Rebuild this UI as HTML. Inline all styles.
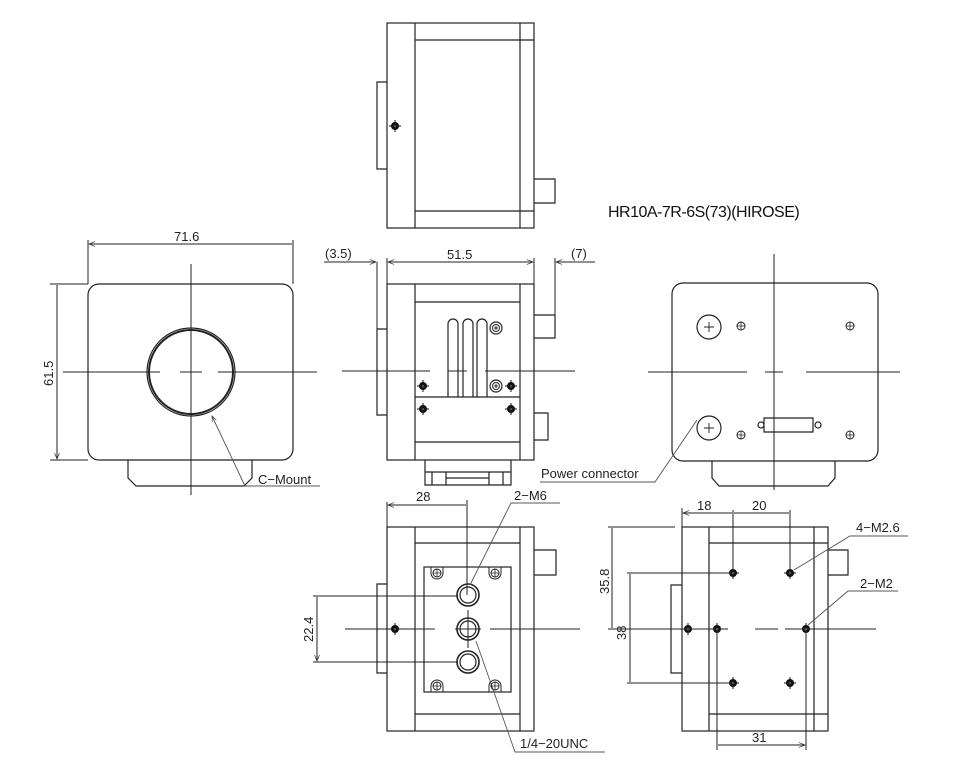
<!DOCTYPE html>
<html><head><meta charset="utf-8"><style>
html,body{margin:0;padding:0;background:#fff;}
svg{display:block}
text{font-family:"Liberation Sans",sans-serif;font-size:13px;fill:#222}
</style></head><body>
<svg width="960" height="784" viewBox="0 0 960 784" xmlns="http://www.w3.org/2000/svg">
<defs>
<marker id="a" viewBox="0 0 10 10" refX="10" refY="5" markerWidth="8" markerHeight="6" orient="auto-start-reverse"><path d="M0,1 L10,5 L0,9" fill="none" stroke="#333" stroke-width="1.2"/></marker>
<g id="sc"><circle r="4" fill="#111"/><circle r="1.3" fill="#fff"/><path d="M-6,0H6M0,-6V6" stroke="#111" stroke-width="1"/></g>
<g id="hl"><circle r="4" fill="none" stroke="#222" stroke-width="1"/><path d="M-4,0H4M0,-4V4" stroke="#222" stroke-width="0.8"/></g>
<g id="dsc"><circle r="6" fill="none" stroke="#222" stroke-width="1.2"/><circle r="3.5" fill="none" stroke="#222"/><path d="M-2,0H2M0,-2V2" stroke="#222"/></g>
</defs>
<g fill="none" stroke="#222" stroke-width="1.2">
<rect x="387" y="23" width="147" height="205"/>
<path d="M415,23V228M520,23V228M415,40H534M415,211H534"/>
<path d="M387,82H377V169H387M534,179H555V203H534"/>
</g>
<use href="#sc" x="395" y="126"/>

<text x="608" y="217" style="font-size:16px;fill:#111;letter-spacing:-0.5px">HR10A-7R-6S(73)(HIROSE)</text>

<!-- FRONT VIEW -->
<g fill="none" stroke="#222" stroke-width="1.2">
<rect x="88" y="284" width="205" height="176" rx="11"/>
<path d="M128,460V478L136,486H244L252,478V460"/>
<circle cx="191" cy="372" r="44"/>
<circle cx="191" cy="372" r="42" stroke-width="2"/>
</g>
<g stroke="#222" stroke-width="1" fill="none">
<path d="M191,264V495M63,372H160M180,372H202M218,372H317"/>
<path d="M88,240V284M293,240V284M50,284H88M50,460H88"/>
<path d="M89,244H292M57,285V459" marker-start="url(#a)" marker-end="url(#a)"/>
<path d="M212,416L245,486H320" stroke="#555" stroke-width="0.9" marker-start="url(#a)"/>
</g>
<text x="174" y="241">71.6</text>
<text x="0" y="0" transform="translate(53,386) rotate(-90)">61.5</text>
<text x="258" y="484">C−Mount</text>

<!-- SIDE VIEW -->
<g fill="none" stroke="#222" stroke-width="1.2">
<rect x="387" y="284" width="147" height="176"/>
<path d="M415,284V460M520,284V460M415,302H520M415,442H520M415,397H520"/>
<path d="M387,329H377V415H387M534,315H555V338H534M534,413H548V440H534"/>
<path d="M448,397V324a5,5 0 0 1 10,0V397M463,397V324a5,5 0 0 1 10,0V397M477,397V324a5,5 0 0 1 10,0V397"/>
<path d="M425,460V485H511V460M425,472H511M432,472V485M446,472V485M489,472V485M503,472V485M446,478H489"/>
</g>
<use href="#dsc" x="496" y="328"/><use href="#dsc" x="496" y="386"/>
<use href="#sc" x="423" y="386"/><use href="#sc" x="423" y="409"/>
<use href="#sc" x="511" y="386"/><use href="#sc" x="511" y="409"/>
<g stroke="#222" stroke-width="1" fill="none">
<path d="M342,371H430M448,371H467M485,371H575"/>
<path d="M377,262V329M387,258V284M534,258V284M555,258V315"/>
<path d="M324,262H376M556,262H595"/>
<path d="M365,262H376" marker-end="url(#a)"/>
<path d="M388,262H533" marker-start="url(#a)" marker-end="url(#a)"/>
<path d="M570,262H556" marker-end="url(#a)"/>
</g>
<text x="325" y="258">(3.5)</text>
<text x="447" y="259">51.5</text>
<text x="571" y="258">(7)</text>

<!-- BACK VIEW -->
<g fill="none" stroke="#222" stroke-width="1.2">
<rect x="672" y="283" width="206" height="178" rx="11"/>
<path d="M712,461V478L719,486H828L835,478V461"/>
<circle cx="709" cy="327" r="12"/><circle cx="709" cy="428" r="12"/>
<path d="M709,322V332M704,327H714M709,423V433M704,428H714" stroke-width="0.9"/>
<path d="M764,418H813V432H764Z"/>
<circle cx="761" cy="425" r="3"/><circle cx="818" cy="425" r="3"/>
</g>
<use href="#hl" x="741" y="326"/><use href="#hl" x="850" y="326"/>
<use href="#hl" x="741" y="435"/><use href="#hl" x="850" y="435"/>
<g stroke="#222" stroke-width="1" fill="none">
<path d="M774,254V490M648,372H747M765,372H783M806,372H900"/>
<path d="M697,420L655,482H540" stroke="#555" stroke-width="0.9"/>
</g>
<text x="541" y="478">Power connector</text>

<!-- BOTTOM VIEW 1 -->
<g fill="none" stroke="#222" stroke-width="1.2">
<rect x="387" y="527" width="147" height="204"/>
<path d="M415,527V731M520,527V731M415,543H520M415,714H520"/>
<path d="M387,584H377V673H387M534,550H556V575H534"/>
<rect x="424" y="567" width="87" height="125"/>
<circle cx="468" cy="595" r="11" stroke-width="1.6"/><circle cx="468" cy="595" r="8"/>
<circle cx="468" cy="629" r="11" stroke-width="1.6"/><circle cx="468" cy="629" r="8"/>
<circle cx="468" cy="662" r="11" stroke-width="1.6"/><circle cx="468" cy="662" r="8"/>
</g>
<g fill="none" stroke="#222" stroke-width="1">
<path d="M431,567V573a6,6 0 1 0 12,0V567M489,567V573a6,6 0 1 0 12,0V567M431,692V686a6,6 0 1 1 12,0V692M489,692V686a6,6 0 1 1 12,0V692"/>
<path d="M345,629H435M455,629H481M490,629H580M468,610V648"/>
<path d="M387,502V527M467,500V595M313,596H458M313,662H458"/>
<path d="M388,505H466M317,597V661" marker-start="url(#a)" marker-end="url(#a)"/>
<path d="M560,503H511L470,585" stroke="#555" stroke-width="0.9"/>
<path d="M476,641L515,752H605" stroke="#555" stroke-width="0.9"/>
</g>
<use href="#hl" x="437" y="573"/><use href="#hl" x="495" y="573"/>
<use href="#hl" x="437" y="686"/><use href="#hl" x="495" y="686"/>
<use href="#sc" x="395" y="629"/>
<text x="416" y="501">28</text>
<text x="514" y="500">2−M6</text>
<text x="0" y="0" transform="translate(313,642) rotate(-90)">22.4</text>
<text x="520" y="748">1/4−20UNC</text>

<!-- BOTTOM VIEW 2 -->
<g fill="none" stroke="#222" stroke-width="1.2">
<rect x="682" y="527" width="146" height="204"/>
<path d="M709,527V731M814,527V731M709,543H828M709,714H828"/>
<path d="M682,585H671V673H682M828,550H848V575H828"/>
</g>
<use href="#sc" x="733" y="573"/><use href="#sc" x="790" y="573"/>
<use href="#sc" x="733" y="683"/><use href="#sc" x="790" y="683"/>
<use href="#sc" x="688" y="629"/><use href="#sc" x="717" y="629"/><use href="#sc" x="806" y="629"/>
<g fill="none" stroke="#222" stroke-width="1">
<path d="M608,629H728M755,629H778M785,629H876"/>
<path d="M682,508V527M733,510V573M790,510V573M608,527H675M627,573H733M627,683H733M717,629V750M806,629V750"/>
<path d="M683,513H732M734,513H789M612,528V628M630,574V682M718,745H805" marker-start="url(#a)" marker-end="url(#a)"/>
<path d="M908,536H850L794,570M898,591H848L808,625" stroke="#555" stroke-width="0.9"/>
</g>
<text x="697" y="510">18</text>
<text x="752" y="510">20</text>
<text x="856" y="532">4−M2.6</text>
<text x="860" y="588">2−M2</text>
<text x="0" y="0" transform="translate(609,594) rotate(-90)">35.8</text>
<text x="0" y="0" transform="translate(626,640) rotate(-90)">38</text>
<text x="752" y="742">31</text>
</svg>
</body></html>
